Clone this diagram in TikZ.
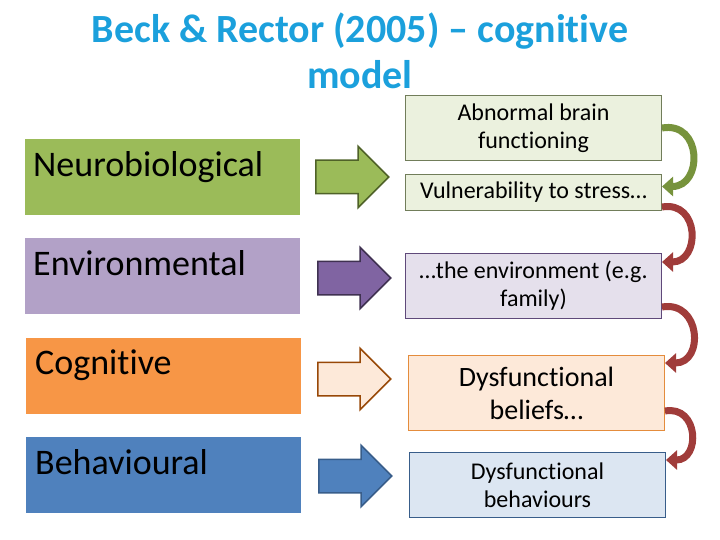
\documentclass[tikz,border=0pt]{standalone}
\usepackage{fontspec}
\setmainfont{Carlito}[Ligatures=NoCommon, RawFeature={-liga;-clig;-calt}]
\usetikzlibrary{arrows.meta,positioning,shapes.arrows}
\definecolor{titelblau}{RGB}{27,160,220}
\definecolor{gruen}{RGB}{155,187,89}
\definecolor{gruenrand}{RGB}{79,98,40}
\definecolor{lila}{RGB}{178,161,199}
\definecolor{lilapf}{RGB}{128,100,162}
\definecolor{lilarand}{RGB}{63,49,81}
\definecolor{orange}{RGB}{247,150,70}
\definecolor{orangehell}{RGB}{253,233,217}
\definecolor{orangerand}{RGB}{152,72,7}
\definecolor{blau}{RGB}{79,129,189}
\definecolor{blaurand}{RGB}{56,93,138}
\definecolor{gruenhell}{RGB}{235,241,222}
\definecolor{lilahell}{RGB}{229,224,236}
\definecolor{blauhell}{RGB}{220,230,242}
\definecolor{feldgrau}{RGB}{113,125,90}
\definecolor{feldlila}{RGB}{95,73,122}
\definecolor{feldorange}{RGB}{228,140,60}
\definecolor{bogengruen}{RGB}{119,147,60}
\definecolor{bogenrot}{RGB}{160,60,58}
\tikzset{
  kasten/.style={minimum width=275pt, minimum height=76pt, inner sep=0pt, anchor=north west},
  kopf/.style={font=\fontsize{36}{42}\selectfont, inner sep=0pt},
  pfeil/.style={single arrow, single arrow head extend=14pt, minimum height=73pt,
    inner xsep=0pt, inner ysep=16pt, line width=1.5pt, anchor=west},
  feld/.style={draw, line width=1pt, minimum width=256pt, align=center, inner sep=2pt, anchor=north west,
    font=\fontsize{24}{28}\selectfont},
  bogen/.style={-{Triangle[length=11pt,width=19pt]}, line width=7pt},
}
\begin{document}
\begin{tikzpicture}[x=1pt, y=-1pt]
  \useasboundingbox (0,0) rectangle (720,540);
  \node[font=\fontsize{40}{46}\selectfont\bfseries, text=titelblau, align=center] (titel) at (360,51)
    {Beck \& Rector (2005) – cognitive\\model};
  % left column
  \node[kasten, fill=gruen] (neuro) at (25,139) {};
  \node[kasten, fill=lila] (umwelt) at (25,238) {};
  \node[kasten, fill=orange] (kogn) at (26,338) {};
  \node[kasten, fill=blau] (verh) at (26,437) {};
  \node[kopf, below right=12pt and 8pt of neuro.north west] (tneuro) {Neurobiological};
  \node[kopf, below right=12pt and 8pt of umwelt.north west] (tumwelt) {Environmental};
  \node[kopf, below right=12pt and 9pt of kogn.north west] (tkogn) {Cognitive};
  \node[kopf, below right=12pt and 9pt of verh.north west] (tverh) {Behavioural};
  % block arrows
  \node[pfeil, fill=gruen, draw=gruenrand] (p1) at (315,177) {};
  \node[pfeil, fill=lilapf, draw=lilarand] (p2) at (317,278) {};
  \node[pfeil, fill=orangehell, draw=orangerand] (p3) at (317,379) {};
  \node[pfeil, fill=blau, draw=blaurand] (p4) at (318,476) {};
  % right column
  \node[feld, fill=gruenhell, draw=feldgrau, minimum height=65pt] (abn) at (405,95)
    {Abnormal brain\\functioning};
  \node[feld, fill=gruenhell, draw=feldgrau, minimum height=36pt] (vul) at (405,174)
    {Vulnerability to stress…};
  \node[feld, fill=lilahell, draw=feldlila, minimum height=65pt] (env) at (405,253)
    {…the environment (e.g.\\family)};
  \node[feld, fill=orangehell, draw=feldorange, minimum height=75pt, font=\fontsize{28}{33}\selectfont] (bel) at (408,355)
    {Dysfunctional\\beliefs…};
  \node[feld, fill=blauhell, draw=blaurand, minimum height=65pt] (beh) at (409,452)
    {Dysfunctional\\behaviours};
  % curved arrows
  \draw[bogen, bogengruen] (abn.east) to[out=10, in=0, looseness=1.8] ([yshift=6pt]vul.east);
  \draw[bogen, bogenrot] ([yshift=4pt]vul.south east) to[out=10, in=0, looseness=1.8] ([yshift=-9pt]env.north east);
  \draw[bogen, bogenrot] ([yshift=12pt]env.south east) to[out=10, in=0, looseness=1.8] ([yshift=-8pt]bel.north east);
  \draw[bogen, bogenrot] ([yshift=20pt]bel.south east) to[out=10, in=0, looseness=1.8] ([yshift=-8pt]beh.north east);
\end{tikzpicture}
\end{document}
